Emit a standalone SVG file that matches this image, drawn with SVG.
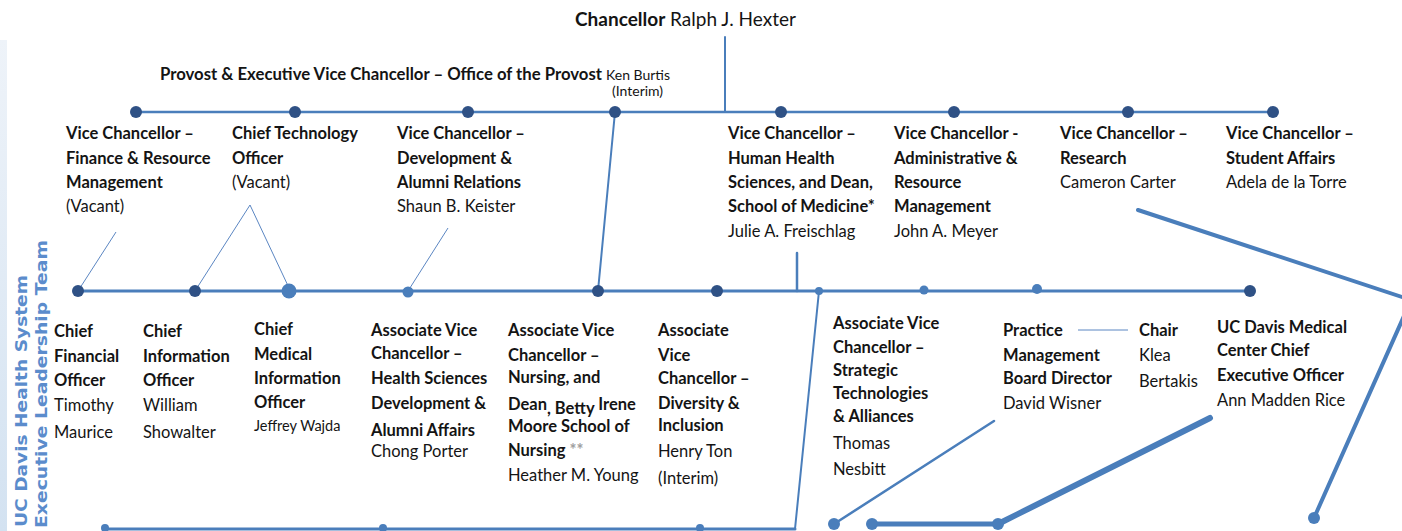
<svg xmlns="http://www.w3.org/2000/svg" width="1402" height="531" viewBox="0 0 1402 531">
<defs>
<linearGradient id="band" x1="0" y1="0" x2="0" y2="1">
<stop offset="0" stop-color="#eef3f9"/>
<stop offset="1" stop-color="#d3e2f1"/>
</linearGradient>
</defs>
<style>
text{font-family:Lato,"Liberation Sans",sans-serif;fill:#141414}
.b{font-weight:bold;font-size:16.5px}
.r{font-size:16.5px}
.s{font-size:14.5px}
.ln{fill:none;stroke:#4a7ebb;stroke-linecap:round}
.thin{fill:none;stroke:#5b86c2;stroke-width:1}
.dk{fill:#2f5185}
.lt{fill:#4a7ebb}
.side{font-family:"DejaVu Sans",sans-serif;font-weight:bold;font-size:16px;fill:#5b8ccc}
</style>
<rect x="0" y="0" width="1402" height="531" fill="#ffffff"/>
<rect x="0" y="40" width="7" height="491" fill="url(#band)"/>
<g id="side-label">
<text class="side" transform="translate(27,527) rotate(-90)" textLength="252" lengthAdjust="spacingAndGlyphs">UC Davis Health System</text>
<text class="side" transform="translate(47,528) rotate(-90)" textLength="288" lengthAdjust="spacingAndGlyphs">Executive Leadership Team</text>
</g>
<g id="connectors">
<path class="ln" stroke-width="2" d="M725,37 V112"/>
<path class="ln" stroke-width="2.5" d="M136,112 H1273"/>
<path class="ln" stroke-width="2" d="M615,112 L598,291"/>
<path class="thin" d="M116,232 L78,291 M250,205 L195,291 M250,205 L290,290 M448,228 L408,291"/>
<path class="ln" stroke-width="3" d="M78,291 H1250"/>
<path class="ln" stroke-width="2.5" d="M797,253 V291"/>
<path class="ln" stroke-width="2" d="M819,291 L795,529"/>
<path class="ln" stroke-width="3" d="M105,529 H795"/>
<path class="ln" stroke-width="2.5" d="M834,524 L994,421"/>
<path class="ln" stroke-width="5" d="M872,524 H998"/>
<path class="ln" stroke-width="6" stroke-linecap="butt" d="M998,524 L1210,418"/>
<path class="ln" stroke-width="4" stroke-linecap="butt" d="M1138,210 L1405,298"/>
<path class="ln" stroke-width="4" stroke-linecap="butt" d="M1404,316 L1314,518"/>
<path class="thin" stroke-width="1.2" d="M1078,330 H1128"/>
<g class="dk">
<circle cx="136" cy="112" r="6"/><circle cx="295" cy="112" r="6"/><circle cx="468" cy="112" r="6"/><circle cx="615" cy="112" r="6"/>
<circle cx="781" cy="112" r="6"/><circle cx="954" cy="112" r="6"/><circle cx="1128" cy="112" r="6"/><circle cx="1273" cy="112" r="6"/>
<circle cx="78" cy="291" r="6"/><circle cx="195" cy="291" r="6"/><circle cx="598" cy="291" r="6"/><circle cx="717" cy="291" r="6"/><circle cx="1250" cy="291" r="6"/>
</g>
<g class="lt">
<circle cx="289" cy="291" r="7.5"/><circle cx="408" cy="292" r="5.5"/><circle cx="819" cy="291" r="4"/><circle cx="924" cy="290" r="4.5"/><circle cx="1037" cy="289" r="5"/>
<circle cx="105" cy="528" r="4"/><circle cx="383" cy="528" r="4"/><circle cx="700" cy="528" r="4"/>
<circle cx="834" cy="524" r="6"/><circle cx="872" cy="524" r="6"/><circle cx="998" cy="524" r="6"/><circle cx="1314" cy="518" r="6"/>
</g>
</g>
<g id="chancellor">
<text x="575" y="26" style="font-size:19px"><tspan font-weight="bold">Chancellor</tspan> Ralph J. Hexter</text>
</g>
<g id="provost">
<text x="160" y="80" class="b" textLength="442" lengthAdjust="spacingAndGlyphs">Provost &amp; Executive Vice Chancellor – Office of the Provost</text>
<text x="606" y="80" style="font-size:14px">Ken Burtis</text>
<text x="612" y="96" style="font-size:14px">(Interim)</text>
</g>
<g id="vc-finance">
<text x="66" y="139" class="b">Vice Chancellor –</text>
<text x="66" y="164" class="b">Finance &amp; Resource</text>
<text x="66" y="188" class="b">Management</text>
<text x="66" y="212" class="r">(Vacant)</text>
</g>
<g id="cto">
<text x="232" y="139" class="b">Chief Technology</text>
<text x="232" y="164" class="b">Officer</text>
<text x="232" y="188" class="r">(Vacant)</text>
</g>
<g id="vc-development">
<text x="397" y="139" class="b">Vice Chancellor –</text>
<text x="397" y="164" class="b">Development &amp;</text>
<text x="397" y="188" class="b">Alumni Relations</text>
<text x="397" y="212" class="r">Shaun B. Keister</text>
</g>
<g id="vc-human-health">
<text x="728" y="139" class="b">Vice Chancellor –</text>
<text x="728" y="164" class="b">Human Health</text>
<text x="728" y="188" class="b">Sciences, and Dean,</text>
<text x="728" y="212" class="b">School of Medicine*</text>
<text x="728" y="237" class="r">Julie A. Freischlag</text>
</g>
<g id="vc-administrative">
<text x="894" y="139" class="b">Vice Chancellor  -</text>
<text x="894" y="164" class="b">Administrative &amp;</text>
<text x="894" y="188" class="b">Resource</text>
<text x="894" y="212" class="b">Management</text>
<text x="894" y="237" class="r">John A. Meyer</text>
</g>
<g id="vc-research">
<text x="1060" y="139" class="b">Vice Chancellor –</text>
<text x="1060" y="164" class="b">Research</text>
<text x="1060" y="188" class="r">Cameron Carter</text>
</g>
<g id="vc-student-affairs">
<text x="1226" y="139" class="b">Vice Chancellor –</text>
<text x="1226" y="164" class="b">Student Affairs</text>
<text x="1226" y="188" class="r">Adela de la Torre</text>
</g>
<g id="cfo">
<text x="54" y="337" class="b">Chief</text>
<text x="54" y="362" class="b">Financial</text>
<text x="54" y="386" class="b">Officer</text>
<text x="54" y="411" class="r">Timothy</text>
<text x="54" y="438" class="r">Maurice</text>
</g>
<g id="cio">
<text x="143" y="337" class="b">Chief</text>
<text x="143" y="362" class="b">Information</text>
<text x="143" y="386" class="b">Officer</text>
<text x="143" y="411" class="r">William</text>
<text x="143" y="438" class="r">Showalter</text>
</g>
<g id="cmio">
<text x="254" y="335" class="b">Chief</text>
<text x="254" y="360" class="b">Medical</text>
<text x="254" y="384" class="b">Information</text>
<text x="254" y="408" class="b">Officer</text>
<text x="254" y="431" class="s">Jeffrey Wajda</text>
</g>
<g id="avc-hs-development">
<text x="371" y="336" class="b">Associate Vice</text>
<text x="371" y="359" class="b">Chancellor –</text>
<text x="371" y="384" class="b">Health Sciences</text>
<text x="371" y="409" class="b">Development &amp;</text>
<text x="371" y="436" class="b">Alumni Affairs</text>
<text x="371" y="457" class="r">Chong Porter</text>
</g>
<g id="avc-nursing">
<text x="508" y="336" class="b">Associate Vice</text>
<text x="508" y="361" class="b">Chancellor –</text>
<text x="508" y="383" class="b">Nursing, and</text>
<text x="508" y="410" class="b">Dean<tspan dy="4">, Betty</tspan><tspan dy="-4"> Irene</tspan></text>
<text x="508" y="432" class="b">Moore School of</text>
<text x="508" y="456" class="b">Nursing <tspan fill="#a0a0a0">**</tspan></text>
<text x="508" y="481" class="r">Heather M. Young</text>
</g>
<g id="avc-diversity">
<text x="658" y="336" class="b">Associate</text>
<text x="658" y="361" class="b">Vice</text>
<text x="658" y="384" class="b">Chancellor –</text>
<text x="658" y="409" class="b">Diversity &amp;</text>
<text x="658" y="431" class="b">Inclusion</text>
<text x="658" y="457" class="r">Henry Ton</text>
<text x="658" y="484" class="r">(Interim)</text>
</g>
<g id="avc-strategic">
<text x="833" y="329" class="b">Associate Vice</text>
<text x="833" y="353" class="b">Chancellor –</text>
<text x="833" y="376" class="b">Strategic</text>
<text x="833" y="399" class="b">Technologies</text>
<text x="833" y="422" class="b">&amp; Alliances</text>
<text x="833" y="449" class="r">Thomas</text>
<text x="833" y="475" class="r">Nesbitt</text>
</g>
<g id="practice-management">
<text x="1003" y="336" class="b">Practice</text>
<text x="1003" y="361" class="b">Management</text>
<text x="1003" y="384" class="b">Board Director</text>
<text x="1003" y="409" class="r">David Wisner</text>
</g>
<g id="chair">
<text x="1139" y="336" class="b">Chair</text>
<text x="1139" y="361" class="r">Klea</text>
<text x="1139" y="387" class="r">Bertakis</text>
</g>
<g id="medical-center-ceo">
<text x="1217" y="333" class="b">UC Davis Medical</text>
<text x="1217" y="356" class="b">Center Chief</text>
<text x="1217" y="381" class="b">Executive Officer</text>
<text x="1217" y="406" class="r">Ann Madden Rice</text>
</g>
</svg>
